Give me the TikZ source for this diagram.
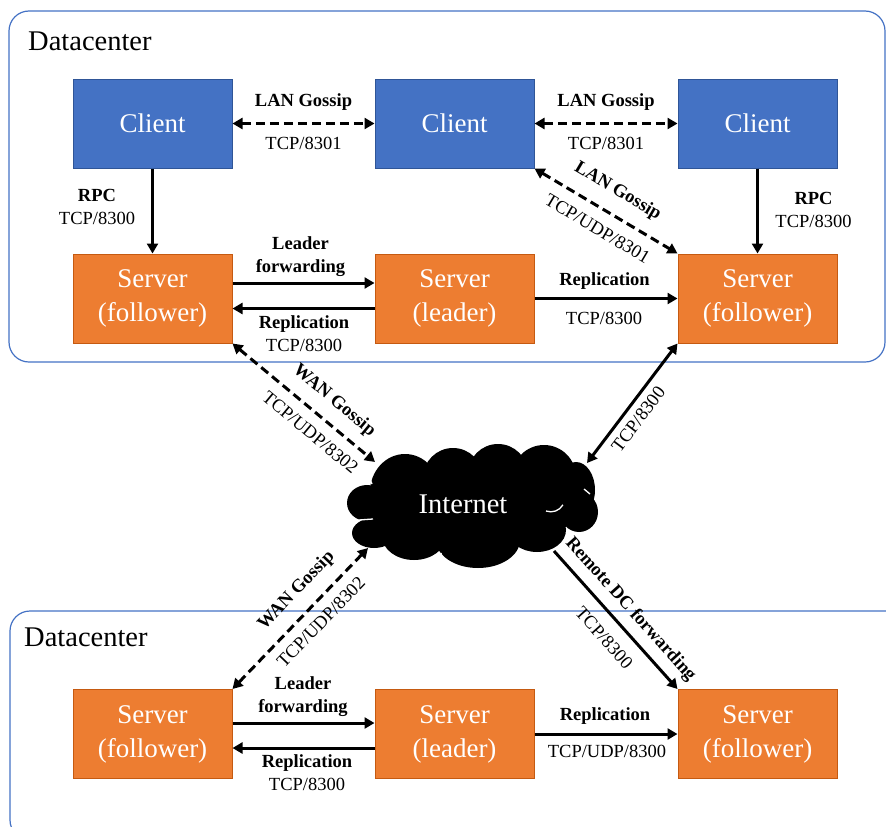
\documentclass[tikz,border=0pt]{standalone}
\usepackage{fontspec}
\setmainfont{Liberation Serif}
\usetikzlibrary{arrows.meta,calc}

\definecolor{frameblue}{HTML}{4472C4}
\definecolor{clientblue}{HTML}{4472C4}
\definecolor{clientedge}{HTML}{2F5597}
\definecolor{serverorange}{HTML}{ED7D31}
\definecolor{serveredge}{HTML}{C55A11}

\newcommand\boxfont{\fontsize{27}{34}\selectfont}
\newcommand\titlefont{\fontsize{28.5}{34}\selectfont}
\newcommand\lblfont{\fontsize{18.5}{23}\selectfont}

\begin{document}
\begin{tikzpicture}[x=1pt,y=-1pt,
  >={Triangle[width=11pt,length=10pt]},
  frame/.style={draw=frameblue, line width=1.2pt, rounded corners=20pt},
  clientbox/.style={draw=clientedge, fill=clientblue, line width=1pt,
    minimum width=159pt, minimum height=89pt, inner sep=0pt,
    text=white, font=\boxfont, align=center},
  serverbox/.style={clientbox, draw=serveredge, fill=serverorange},
  link/.style={line width=3pt, ->},
  twoway/.style={line width=3pt, <->},
  gossip/.style={dash pattern=on 9pt off 5pt},
  lb/.style={font=\lblfont\bfseries, inner sep=1pt, text height=12pt, text depth=4pt},
  lt/.style={font=\lblfont, inner sep=1pt, text height=12pt, text depth=4pt},
  blk/.style={font=\lblfont, inner sep=1pt, align=center},
]
\useasboundingbox (0,0) rectangle (886,827);

% datacenter frames
\draw[frame] (9,11) rectangle (885,362);
\draw[frame] (10,611) rectangle (905,840);
\node[font=\titlefont, anchor=base west, inner sep=0pt] (dc1) at (28,50) {Datacenter};
\node[font=\titlefont, anchor=base west, inner sep=0pt] (dc2) at (24,646) {Datacenter};

% clients
\node[clientbox] (c1) at (152.5,123.5) {Client};
\node[clientbox] (c2) at (454.5,123.5) {Client};
\node[clientbox] (c3) at (757.5,123.5) {Client};

% servers of the first datacenter
\node[serverbox] (s1) at (152.5,298.5) {Server\\(follower)};
\node[serverbox] (s2) at (454.5,298.5) {Server\\(leader)};
\node[serverbox] (s3) at (757.5,298.5) {Server\\(follower)};

% servers of the second datacenter
\node[serverbox] (b1) at (152.5,734) {Server\\(follower)};
\node[serverbox] (b2) at (454.5,734) {Server\\(leader)};
\node[serverbox] (b3) at (757.5,734) {Server\\(follower)};

% the internet cloud, built from overlapping puffs
\begin{scope}[fill=black]
  \fill (475,510) ellipse [x radius=100, y radius=40];
  \fill (405,492) ellipse [x radius=35, y radius=38];
  \fill (453,478) circle [radius=30];
  \fill (498,474) circle [radius=30];
  \fill (544,477) circle [radius=32];
  \fill (576,490) ellipse [x radius=19, y radius=28];
  \fill (579,512) ellipse [x radius=19, y radius=20];
  \fill (367,503) ellipse [x radius=20, y radius=18];
  \fill (374,533) ellipse [x radius=22, y radius=15];
  \fill (414,536) ellipse [x radius=32, y radius=24];
  \fill (478,540) ellipse [x radius=42, y radius=28];
  \fill (537,530) ellipse [x radius=29, y radius=22];
\end{scope}
\begin{scope}[draw=white, line width=1.3pt]
  \draw (546,511) arc[start angle=110, end angle=30, radius=14];
  \draw (359,520) -- (373,519);
  \draw (372,484) arc[start angle=150, end angle=200, radius=14];
  \draw (584,489) -- (590,494);
  \draw (441,553) -- (442,557);
\end{scope}
\node[text=white, font=\titlefont, anchor=base, inner sep=0pt] (inet) at (463,513) {Internet};

% attachment points on the cloud
\coordinate (wanTop) at (375,462);
\coordinate (dcTop) at (587,463);
\coordinate (wanBot) at (368,548);
\coordinate (dcBot) at (554,551);

% LAN gossip between clients
\draw[twoway,gossip] (c1) -- node[lb,above=11pt]{LAN Gossip} node[lt,below=11pt]{TCP/8301} (c2);
\draw[twoway,gossip] (c2) -- node[lb,above=11pt]{LAN Gossip} node[lt,below=11pt]{TCP/8301} (c3);
\draw[twoway,gossip] (c2.south east) -- node[lb,sloped,above=12pt,pos=0.5]{LAN Gossip}
  node[lt,sloped,below=11pt,pos=0.51]{TCP/UDP/8301} (s3.north west);

% RPC from clients to servers
\draw[link] (c1) -- (s1);
\node[blk] (rpc1) at (97,207) {\textbf{RPC}\\TCP/8300};
\draw[link] (c3) -- (s3);
\node[blk] (rpc3) at (813.5,210) {\textbf{RPC}\\TCP/8300};

% traffic inside the first datacenter
\draw[link] ([yshift=15.5pt]s1.east) -- ([yshift=15.5pt]s2.west);
\node[blk, font=\lblfont\bfseries] (lf1) at (300.5,257) {Leader\\forwarding};
\draw[link] ([yshift=-10pt]s2.west) -- ([yshift=-10pt]s1.east);
\node[blk] (rp1) at (304,334) {\textbf{Replication}\\TCP/8300};
\draw[link] (s2) -- (s3);
\node[lb] (rp2) at (604.5,281) {Replication};
\node[lt] (rp2p) at (604,320) {TCP/8300};

% links through the internet
\draw[twoway,gossip] (s1.south east) -- node[lb,sloped,above=10pt,pos=0.62]{WAN Gossip}
  node[lt,sloped,below=10pt,pos=0.63]{TCP/UDP/8302} (wanTop);
\draw[twoway] (dcTop) -- node[lt,sloped,below=6pt,pos=0.44]{TCP/8300} (s3.south west);
\draw[twoway,gossip] (b1.north east) -- node[lb,sloped,above=11pt,pos=0.59]{WAN Gossip}
  node[lt,sloped,below=9pt,pos=0.56]{TCP/UDP/8302} (wanBot);
\draw[link] (dcBot) -- node[lb,sloped,above=7pt,pos=0.51]{Remote DC forwarding}
  node[lt,sloped,below=12pt,pos=0.53]{TCP/8300} (b3.north west);

% traffic inside the second datacenter
\draw[link] ([yshift=11pt]b1.east) -- ([yshift=11pt]b2.west);
\node[blk, font=\lblfont\bfseries] (lf2) at (303,697) {Leader\\forwarding};
\draw[link] ([yshift=-14pt]b2.west) -- ([yshift=-14pt]b1.east);
\node[blk] (rp3) at (307,773) {\textbf{Replication}\\TCP/8300};
\draw[link] (b2) -- (b3);
\node[lb] (rp4) at (605,716) {Replication};
\node[lt] (rp4p) at (607,753) {TCP/UDP/8300};
\end{tikzpicture}
\end{document}
